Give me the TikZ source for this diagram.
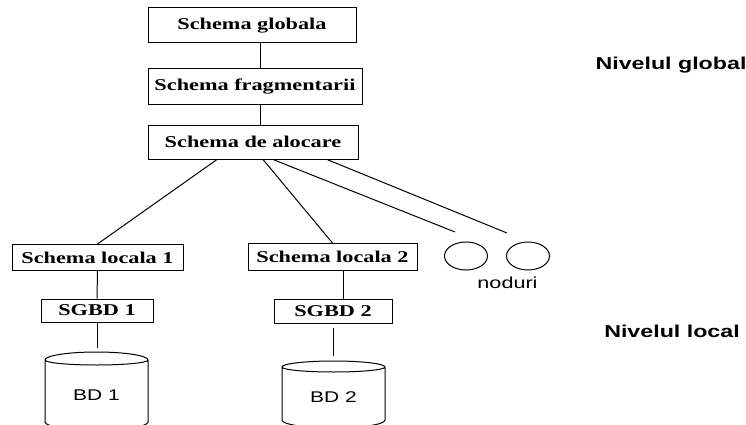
\documentclass[tikz,border=0pt]{standalone}
\usepackage{fontspec}
\newfontfamily\schemafont[FakeStretch=1.35]{Liberation Serif}
\newfontfamily\labelfont[FakeStretch=1.35]{Liberation Sans}
\usetikzlibrary{shapes.geometric}

\begin{document}
\begin{tikzpicture}[
                x = 1pt, y = -1pt, % pixel grid, y downwards
                line width = 1pt % line style
            ]

            \useasboundingbox (0,0) rectangle (746,425);

            \tikzstyle{schema}=[draw = black, rectangle, inner sep = 0pt,
            font = \schemafont\bfseries\fontsize{16.5}{17}\selectfont]
            \tikzstyle{db}=[inner sep = 0pt,
            font = \labelfont\fontsize{15.5}{16}\selectfont]
            \tikzstyle{nod}=[draw = black, ellipse, inner sep = 0pt,
            minimum width = 43pt, minimum height = 28pt]
            \tikzstyle{level}=[anchor = base,
            font = \labelfont\bfseries\fontsize{17.2}{18}\selectfont]

            % global schemas
            \node (glob) [schema, minimum width = 208pt, minimum height = 35pt]
            at (252,25.5) {Schema globala};
            \node (frag) [schema, minimum width = 214pt, minimum height = 36pt]
            at (255,87) {Schema fragmentarii};
            \node (aloc) [schema, minimum width = 210pt, minimum height = 34pt]
            at (253,142) {Schema de alocare};

            % local schemas
            \node (loc1) [schema, minimum width = 171pt, minimum height = 26pt]
            at (97.5,257.5) {Schema locala 1};
            \node (loc2) [schema, minimum width = 169pt, minimum height = 27pt]
            at (332.5,257) {Schema locala 2};
            \node (sgbd1) [schema, minimum width = 112pt, minimum height = 23pt]
            at (97,310.5) {SGBD 1};
            \node (sgbd2) [schema, minimum width = 118pt, minimum height = 24pt]
            at (333,311) {SGBD 2};

            % databases
            \draw (45,360) arc[start angle = 180, end angle = 0, x radius = 51.5pt,
            y radius = 8pt] arc[start angle = 0, end angle = -180, x radius = 51.5pt,
            y radius = 5pt] -- (45,422) arc[start angle = 180, end angle = 360,
            x radius = 51.5pt, y radius = 8pt] -- (148,360);
            \draw (282,367) arc[start angle = 180, end angle = 0, x radius = 51.5pt,
            y radius = 6pt] arc[start angle = 0, end angle = -180, x radius = 51.5pt,
            y radius = 5pt] -- (282,420) arc[start angle = 180, end angle = 360,
            x radius = 51.5pt, y radius = 8pt] -- (385,367);
            \node (bd1) [db, anchor = base] at (96.5,400) {BD 1};
            \node (bd2) [db, anchor = base] at (333.5,402) {BD 2};
            \coordinate (bd1top) at (97,348);
            \coordinate (bd2top) at (333,356);

            % other nodes
            \node (n1) [nod] at (466,256) {};
            \node (n2) [nod] at (528,256) {};
            \node (noduri) [db, anchor = base, font = \labelfont\fontsize{16}{17}\selectfont]
            at (507.5,288) {noduri};
            \coordinate (e1) at (455,232);
            \coordinate (e2) at (507,233);

            % levels
            \node (glevel) [level] at (671,70) {Nivelul global};
            \node (llevel) [level] at (672,337) {Nivelul local};

            \path ([xshift = 8.5pt]glob.south) edge ([xshift = 8.5pt]glob.south |- frag.north);
            \path ([xshift = 5.5pt]frag.south) edge ([xshift = 5.5pt]frag.south |- aloc.north);
            \path ([xshift = -36pt]aloc.south) edge (loc1.north);
            \path ([xshift = 10pt]aloc.south) edge (loc2.north);
            \path ([xshift = 20pt]aloc.south) edge (e1);
            \path ([xshift = 74pt]aloc.south) edge (e2);
            \path (loc1.south) edge (sgbd1.north);
            \path (sgbd1.south) edge (bd1top);
            \path ([xshift = 10.5pt]loc2.south) edge ([xshift = 10.5pt]loc2.south |- sgbd2.north);
            \path ([yshift = -4pt]sgbd2.south) edge (bd2top);

        \end{tikzpicture}
\end{document}
